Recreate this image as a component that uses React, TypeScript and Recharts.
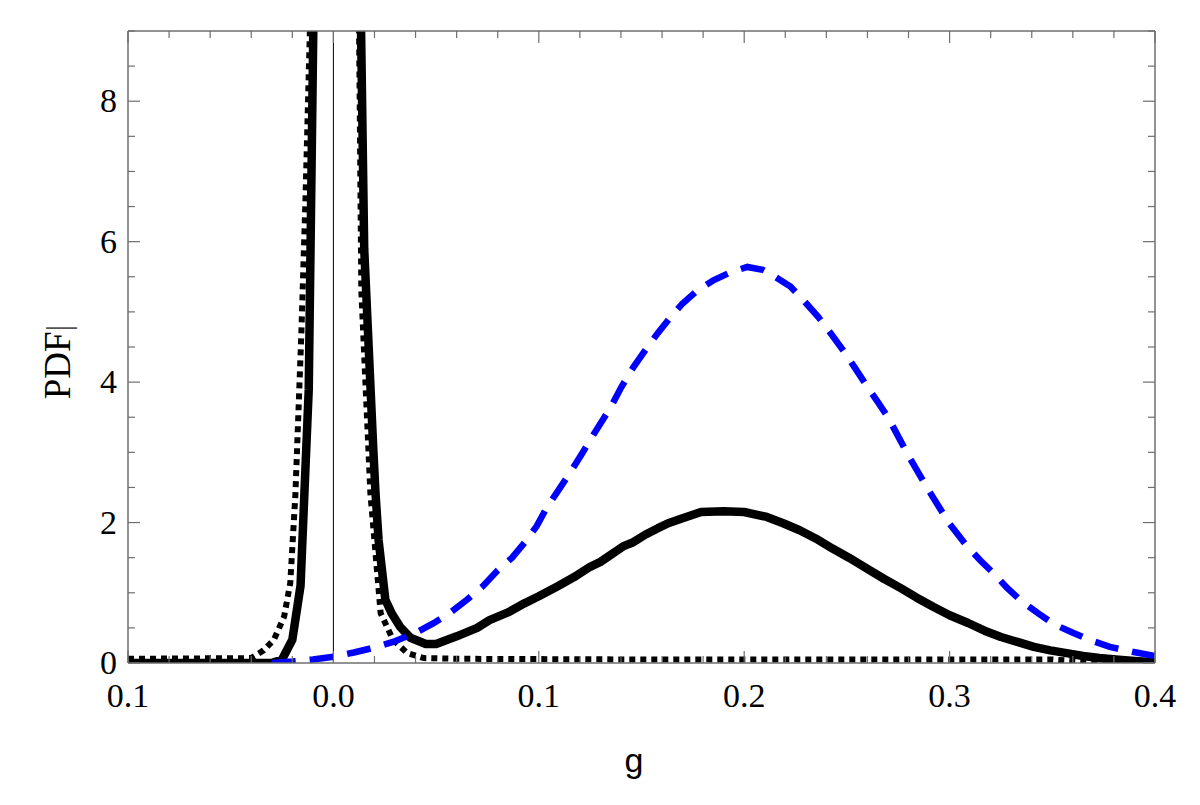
import { LineChart, Line, XAxis, YAxis, ReferenceLine, Label } from "recharts";

// solid black curve
const gSolid = [
  -0.1, -0.06, -0.03, -0.025, -0.02, -0.016, -0.014, -0.012, -0.0085, 0.002, 0.012, 0.015, 0.0195, 0.0205,
  0.022, 0.0253, 0.0285, 0.0326, 0.0375, 0.045, 0.05, 0.06, 0.07, 0.076, 0.085, 0.093, 0.1, 0.109, 0.117,
  0.125, 0.13, 0.141, 0.146, 0.152, 0.158, 0.163, 0.17, 0.179, 0.19, 0.2, 0.211, 0.219, 0.227, 0.235, 0.243,
  0.251, 0.26, 0.268, 0.276, 0.284, 0.292, 0.3, 0.309, 0.317, 0.325, 0.333, 0.341, 0.349, 0.357, 0.365,
  0.373, 0.381, 0.39, 0.4,
];
const pdfSolid = [
  0, 0, 0, 0.05, 0.33, 1.1, 2.5, 3.9, 12, 40, 12, 5.9, 3.0, 2.42,
  1.75, 0.9, 0.7, 0.51, 0.36, 0.27, 0.27, 0.38, 0.5, 0.61, 0.72, 0.85, 0.95, 1.09, 1.22,
  1.37, 1.44, 1.66, 1.72, 1.83, 1.92, 1.99, 2.06, 2.15, 2.16, 2.15, 2.08, 1.99, 1.89, 1.77, 1.63,
  1.5, 1.34, 1.2, 1.07, 0.93, 0.8, 0.68, 0.57, 0.46, 0.37, 0.3, 0.23, 0.18, 0.14, 0.1,
  0.07, 0.05, 0.03, 0.01,
];

// dotted black curve
const gDotted = [
  -0.1, -0.04, -0.034, -0.029, -0.024, -0.021, -0.0185, -0.0156, -0.0136, -0.011, -0.008, 0.002, 0.011,
  0.0125, 0.0136, 0.018, 0.023, 0.029, 0.036, 0.044, 0.06, 0.15, 0.25, 0.35, 0.36, 0.37, 0.4,
];
const pdfDotted = [
  0.06, 0.07, 0.18, 0.33, 0.66, 1.14, 2.4, 4.7, 6.6, 9.5, 14, 40, 12,
  9, 5.3, 2.42, 0.71, 0.33, 0.14, 0.07, 0.06, 0.05, 0.05, 0.05, 0.03, 0, 0,
];

// blue dashed curve
const gDashed = [
  -0.03, -0.02, -0.01, 0, 0.01, 0.02, 0.029, 0.04, 0.049, 0.057, 0.065, 0.073, 0.08, 0.087, 0.093, 0.099,
  0.104, 0.11, 0.115, 0.121, 0.127, 0.135, 0.14, 0.146, 0.152, 0.158, 0.164, 0.17, 0.177, 0.185, 0.193,
  0.2015, 0.209, 0.215, 0.2225, 0.229, 0.236, 0.242, 0.248, 0.254, 0.26, 0.265, 0.27, 0.28, 0.29, 0.3,
  0.308, 0.315, 0.322, 0.328, 0.335, 0.343, 0.351, 0.36, 0.369, 0.378, 0.389, 0.4,
];
const pdfDashed = [
  0, 0.02, 0.05, 0.09, 0.15, 0.22, 0.3, 0.43, 0.57, 0.72, 0.9, 1.1, 1.32, 1.5, 1.71, 1.95,
  2.22, 2.48, 2.7, 2.98, 3.27, 3.64, 3.92, 4.21, 4.46, 4.7, 4.92, 5.12, 5.3, 5.45, 5.56,
  5.64, 5.6, 5.5, 5.36, 5.16, 4.93, 4.7, 4.46, 4.2, 3.93, 3.72, 3.5, 2.95, 2.45, 1.98,
  1.68, 1.46, 1.26, 1.07, 0.88, 0.71, 0.55, 0.43, 0.32, 0.23, 0.16, 0.1,
];

const xTicks = [
  -0.1, -0.08, -0.06, -0.04, -0.02, 0, 0.02, 0.04, 0.06, 0.08, 0.1, 0.12, 0.14, 0.16, 0.18, 0.2,
  0.22, 0.24, 0.26, 0.28, 0.3, 0.32, 0.34, 0.36, 0.38, 0.4,
];
const xMajor = [-0.1, 0, 0.1, 0.2, 0.3, 0.4];
const xMajorLabels = ["0.1", "0.0", "0.1", "0.2", "0.3", "0.4"];

const yTicks = [0, 0.5, 1, 1.5, 2, 2.5, 3, 3.5, 4, 4.5, 5, 5.5, 6, 6.5, 7, 7.5, 8, 8.5, 9];
const yMajor = [0, 2, 4, 6, 8];
const yMajorLabels = ["0", "2", "4", "6", "8"];

const solidData = gSolid.map((g, i) => ({ g, pdf: pdfSolid[i] }));
const dottedData = gDotted.map((g, i) => ({ g, pdf: pdfDotted[i] }));
const dashedData = gDashed.map((g, i) => ({ g, pdf: pdfDashed[i] }));

const FRAME = "#6e6e6e";
const SERIF = "'Liberation Serif', 'Times New Roman', serif";
const SANS = "'Liberation Sans', Arial, sans-serif";

const majorIndex = (list: number[], v: number) => list.findIndex((m) => Math.abs(m - v) < 1e-6);

const BottomTick = ({ x, y, payload }: any) => {
  const idx = majorIndex(xMajor, payload.value);
  return (
    <g>
      <line x1={x} x2={x} y1={y} y2={y - (idx >= 0 ? 12 : 7)} stroke={FRAME} strokeWidth={1.2} />
      {idx >= 0 && (
        <text x={x} y={y + 44} textAnchor="middle" fontFamily={SERIF} fontSize={34} fill="#000">
          {xMajorLabels[idx]}
        </text>
      )}
    </g>
  );
};

const TopTick = ({ x, y, payload }: any) => {
  const idx = majorIndex(xMajor, payload.value);
  return <line x1={x} x2={x} y1={y} y2={y + (idx >= 0 ? 12 : 7)} stroke={FRAME} strokeWidth={1.2} />;
};

const LeftTick = ({ x, y, payload }: any) => {
  const idx = majorIndex(yMajor, payload.value);
  return (
    <g>
      <line x1={x} x2={x + (idx >= 0 ? 12 : 7)} y1={y} y2={y} stroke={FRAME} strokeWidth={1.2} />
      {idx >= 0 && (
        <text x={x - 11} y={y + 11} textAnchor="end" fontFamily={SERIF} fontSize={34} fill="#000">
          {yMajorLabels[idx]}
        </text>
      )}
    </g>
  );
};

const RightTick = ({ x, y, payload }: any) => {
  const idx = majorIndex(yMajor, payload.value);
  return <line x1={x} x2={x - (idx >= 0 ? 12 : 7)} y1={y} y2={y} stroke={FRAME} strokeWidth={1.2} />;
};

const PdfLabel = () => (
  <text
    x={70}
    y={362}
    transform="rotate(-90, 70, 362)"
    textAnchor="middle"
    fontFamily={SERIF}
    fontSize={37}
    fill="#000"
  >
    PDF
    <tspan fontSize={34} fill="#555" fontWeight={100}>|</tspan>
  </text>
);

const GLabel = () => (
  <text x={634} y={772} textAnchor="middle" fontFamily={SANS} fontSize={34} fill="#000">
    g
  </text>
);

export default function App() {
  return (
    <div style={{ position: "absolute", left: 0, top: 0, width: 1200, height: 805, background: "#fff" }}>
      <LineChart width={1200} height={805} margin={{ top: 11, right: 25, bottom: 82, left: 0 }}>
        <XAxis
          type="number"
          dataKey="g"
          domain={[-0.1, 0.4]}
          allowDataOverflow
          ticks={xTicks}
          interval={0}
          height={60}
          tickSize={0}
          tickMargin={0}
          axisLine={{ stroke: FRAME, strokeWidth: 1.5 }}
          tickLine={false}
          tick={<BottomTick />}
          label={<Label content={GLabel} />}
        />
        <XAxis
          xAxisId="top"
          orientation="top"
          type="number"
          dataKey="g"
          domain={[-0.1, 0.4]}
          allowDataOverflow
          ticks={xTicks}
          interval={0}
          height={20}
          tickSize={0}
          tickMargin={0}
          axisLine={{ stroke: FRAME, strokeWidth: 1.5 }}
          tickLine={false}
          tick={<TopTick />}
        />
        <YAxis
          type="number"
          domain={[0, 9]}
          allowDataOverflow
          ticks={yTicks}
          interval={0}
          width={128}
          tickSize={0}
          tickMargin={0}
          axisLine={{ stroke: FRAME, strokeWidth: 1.5 }}
          tickLine={false}
          tick={<LeftTick />}
          label={<Label content={PdfLabel} />}
        />
        <YAxis
          yAxisId="right"
          orientation="right"
          type="number"
          domain={[0, 9]}
          allowDataOverflow
          ticks={yTicks}
          interval={0}
          width={20}
          tickSize={0}
          tickMargin={0}
          axisLine={{ stroke: FRAME, strokeWidth: 1.5 }}
          tickLine={false}
          tick={<RightTick />}
        />
        <ReferenceLine x={0} stroke="#000" strokeWidth={1} />
        <Line
          data={dottedData}
          dataKey="pdf"
          type="linear"
          stroke="#000"
          strokeWidth={6}
          strokeDasharray="6 5"
          dot={false}
          activeDot={false}
          isAnimationActive={false}
        />
        <Line
          data={solidData}
          dataKey="pdf"
          type="linear"
          stroke="#000"
          strokeWidth={8.5}
          strokeLinejoin="round"
          dot={false}
          activeDot={false}
          isAnimationActive={false}
        />
        <Line
          data={dashedData}
          dataKey="pdf"
          type="linear"
          stroke="#0000ff"
          strokeWidth={6.5}
          strokeDasharray="24 14"
          dot={false}
          activeDot={false}
          isAnimationActive={false}
        />
      </LineChart>
    </div>
  );
}
